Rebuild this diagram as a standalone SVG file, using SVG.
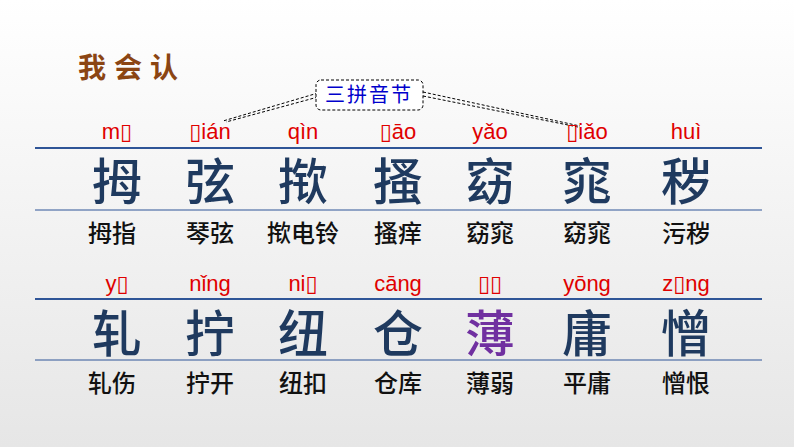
<svg xmlns="http://www.w3.org/2000/svg" width="794" height="447" viewBox="0 0 794 447">
<defs><linearGradient id="bg" x1="0" y1="0" x2="0" y2="1"><stop offset="0" stop-color="#ffffff"/><stop offset="1" stop-color="#e6e6e6"/></linearGradient></defs>
<style>
.py{font-family:"Liberation Sans","DejaVu Sans",sans-serif;font-size:22px;fill:#e00000;text-anchor:middle}
.big{font-family:"Noto Sans CJK SC",serif;font-size:50px;fill:#1f3a5f;text-anchor:middle;font-weight:500}
.w{font-family:"Noto Sans CJK SC",sans-serif;font-size:24px;fill:#111;text-anchor:middle;font-weight:500}
.ln{stroke:#2f5597;stroke-width:2}
.dash{stroke:#000;stroke-width:1;stroke-dasharray:3,2;fill:none}
</style>
<rect width="794" height="447" fill="url(#bg)"/>
<text x="78" y="78" font-family="Noto Sans CJK SC,sans-serif" font-size="28" font-weight="bold" fill="#8b4513" letter-spacing="8">我会认</text>
<g id="connectors">
<path class="dash" d="M318 93 L223 121 M318 97 L226 122 M423 92 L580 126 M423 96 L578 127"/>
<line class="ln" x1="35" y1="148" x2="762" y2="148"/>
<line x1="35" y1="210" x2="762" y2="210" stroke="#2f5597" stroke-width="1"/>
<line class="ln" x1="35" y1="299" x2="762" y2="299"/>
<line x1="35" y1="360" x2="762" y2="360" stroke="#2f5597" stroke-width="1"/>
</g>
<g id="label"><rect x="316" y="80" width="107" height="30" rx="5" fill="#fff" stroke="#000" stroke-dasharray="3,2"/><text x="369" y="102" text-anchor="middle" font-family="Noto Sans CJK SC,serif" font-size="20" fill="#0000cc" letter-spacing="2">三拼音节</text></g>
<g id="row1">
<text class="py" x="117" y="139">m▯</text><text class="py" x="210" y="139">▯ián</text><text class="py" x="303" y="139">qìn</text><text class="py" x="398" y="139">▯āo</text><text class="py" x="490" y="139">yǎo</text><text class="py" x="587" y="139">▯iǎo</text><text class="py" x="686" y="139">huì</text>
<text class="big" x="117" y="200">拇</text><text class="big" x="210" y="200">弦</text><text class="big" x="303" y="200">揿</text><text class="big" x="398" y="200">搔</text><text class="big" x="490" y="200">窈</text><text class="big" x="587" y="200">窕</text><text class="big" x="686" y="200">秽</text>
<text class="w" x="112" y="242">拇指</text><text class="w" x="210" y="242">琴弦</text><text class="w" x="303" y="242">揿电铃</text><text class="w" x="398" y="242">搔痒</text><text class="w" x="490" y="242">窈窕</text><text class="w" x="587" y="242">窈窕</text><text class="w" x="686" y="242">污秽</text>
</g>
<g id="row2">
<text class="py" x="117" y="291">y▯</text><text class="py" x="210" y="291">nǐng</text><text class="py" x="303" y="291">ni▯</text><text class="py" x="398" y="291">cāng</text><text class="py" x="490" y="291">▯▯</text><text class="py" x="587" y="291">yōng</text><text class="py" x="686" y="291">z▯ng</text>
<text class="big" x="117" y="352">轧</text><text class="big" x="210" y="352">拧</text><text class="big" x="303" y="352">纽</text><text class="big" x="398" y="352">仓</text><text class="big" x="490" y="352" style="fill:#7030a0">薄</text><text class="big" x="587" y="352">庸</text><text class="big" x="686" y="352">憎</text>
<text class="w" x="112" y="392">轧伤</text><text class="w" x="210" y="392">拧开</text><text class="w" x="303" y="392">纽扣</text><text class="w" x="398" y="392">仓库</text><text class="w" x="490" y="392">薄弱</text><text class="w" x="587" y="392">平庸</text><text class="w" x="686" y="392">憎恨</text>
</g>
</svg>
